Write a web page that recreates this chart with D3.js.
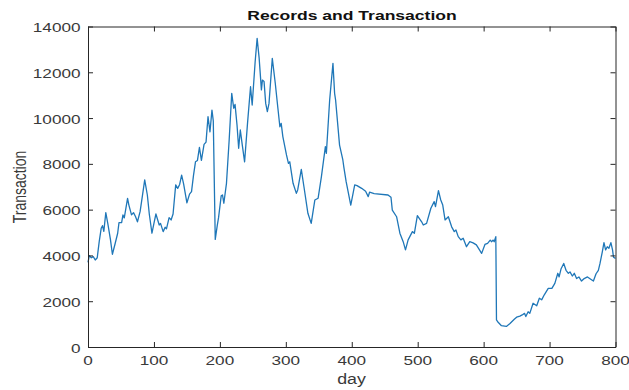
<!DOCTYPE html>
<html>
<head>
<meta charset="utf-8">
<script src="https://cdn.jsdelivr.net/npm/d3@7"></script>
<style>
  html, body { margin: 0; padding: 0; background: #fff; }
  svg { display: block; }
  text { font-family: "Liberation Sans", Arial, Helvetica, sans-serif; }
</style>
</head>
<body>
<svg id="chart" width="629" height="390"></svg>
<script>
// Daily transaction counts
const days = [
  0, 2, 5, 8, 11, 14, 17, 20, 22, 24, 27, 30, 34, 37, 41, 45, 47, 51, 53, 55,
  60, 62, 66, 69, 72, 75, 79, 83, 86, 90, 93, 97, 100, 103, 108, 110, 114, 117, 119, 123,
  126, 129, 133, 136, 139, 142, 145, 150, 154, 157, 160, 163, 166, 169, 172, 176, 179, 182, 185, 188,
  190, 193, 196, 198, 202, 204, 206, 210, 214, 218, 221, 223, 226, 228.5, 231, 234, 237.5, 242, 246.5, 249,
  253.5, 256.5, 259.5, 263, 264.5, 267, 269.5, 272, 274.5, 279.5, 284, 288, 291, 293, 295.5, 301, 304, 306, 311, 316,
  318, 323.5, 327.5, 333.5, 338.5, 344, 349, 354, 360, 361.5, 366.5, 371.5, 374, 375.5, 381.5, 386.5, 388, 391.5, 398.5, 402,
  404.5, 408, 415, 421, 425, 427, 434, 455, 459.5, 461.5, 468, 473, 478, 481.5, 485.5, 492, 495, 499.5, 506, 508.5,
  513.5, 520, 525, 527, 531.5, 535, 538, 541.5, 546.5, 551.5, 555.5, 558, 561.5, 565.5, 569, 574, 579, 584, 589, 597,
  602, 606, 610, 612, 614.5, 616, 618.5, 619.5, 622, 627, 634.5, 640, 646.5, 650, 655, 658.5, 662, 664, 667.5, 670,
  675, 680.5, 684.5, 688, 692, 698, 703.5, 708, 712.5, 714.5, 717.5, 721.5, 725, 728.5, 731, 734.5, 737.5, 741, 744.5, 748.5,
  752.5, 757.5, 763, 766.5, 770.5, 774, 776.5, 780, 782.5, 785, 787.5, 790, 793, 795.5, 797, 800
];
const transactions = [
  3700, 3990, 3900, 3950, 3800, 3900, 4600, 5185, 5300, 5050, 5870, 5400, 4700, 4050, 4500, 4970, 5430, 5430, 5770, 5640,
  6495, 6200, 5770, 5870, 5700, 5470, 5910, 6700, 7300, 6640, 5800, 4970, 5400, 5810, 5330, 5400, 5040, 5230, 5160, 5650,
  5550, 5810, 7080, 6930, 7100, 7510, 7130, 6300, 6680, 6790, 7500, 8090, 8150, 8720, 8150, 8850, 8950, 10060, 9400, 10350,
  9880, 4700, 5300, 5650, 6600, 6640, 6280, 7150, 9000, 11080, 10430, 10600, 9700, 8680, 9480, 8820, 8090, 9800, 11370, 10570,
  12460, 13480, 12640, 11230, 11660, 11600, 10640, 10280, 10640, 12610, 11520, 10430, 9620, 9770, 9190, 8390, 8020, 8090, 7150, 6710,
  6860, 7760, 7000, 5840, 5400, 6420, 6500, 7440, 8750, 8460, 10790, 12390, 11080, 10790, 8820, 8170, 7860, 7220, 6200, 6710,
  7080, 7050, 6930, 6800, 6570, 6760, 6700, 6640, 6540, 5980, 5690, 4970, 4600, 4240, 4680, 5040, 4970, 5740, 5470, 5330,
  5400, 6060, 6350, 6130, 6830, 6420, 6200, 5550, 5690, 5250, 5040, 5110, 4820, 4680, 4750, 4380, 4600, 4550, 4460, 4090,
  4480, 4530, 4670, 4600, 4670, 4600, 4820, 1180, 1080, 930, 900, 1030, 1210, 1300, 1350, 1400, 1470, 1330, 1540, 1470,
  1910, 1800, 2130, 2060, 2280, 2560, 2560, 2780, 3220, 3060, 3420, 3650, 3350, 3220, 3280, 3100, 3220, 2990, 3060, 2880,
  2990, 3060, 2950, 2880, 3200, 3350, 3650, 4160, 4560, 4240, 4380, 4310, 4560, 4240, 3920, 3870
];
const xTicks = [0, 100, 200, 300, 400, 500, 600, 700, 800];
const yTicks = [0, 2000, 4000, 6000, 8000, 10000, 12000, 14000];
const chartTitle = "Records and Transaction";
const xLabel = "day";
const yLabel = "Transaction";

const svg = d3.select("#chart");
const W = 629, H = 390;
const plot = { left: 88, right: 615.5, top: 26.5, bottom: 347 };
// horizontal stretch of glyphs
const sx = 1.27;
const axisColor = "#262626";
const labelColor = "#3a3a3a";

svg.append("rect").attr("width", W).attr("height", H).attr("fill", "#fff");

const x = d3.scaleLinear().domain([0, 800]).range([plot.left, plot.right]);
const y = d3.scaleLinear().domain([0, 14000]).range([plot.bottom, plot.top]);

const data = days.map((d, i) => ({ day: d, value: transactions[i] }));

// series line
const line = d3.line().x(d => x(d.day)).y(d => y(d.value));
svg.append("path")
  .datum(data)
  .attr("d", line)
  .attr("fill", "none")
  .attr("stroke", "#1f77b8")
  .attr("stroke-width", 1.3)
  .attr("stroke-linejoin", "round");

// axes with inward ticks on all four sides
const tickLen = 5;
const axB = d3.axisBottom(x).tickValues(xTicks).tickSizeInner(-tickLen).tickSizeOuter(0).tickFormat("");
const axT = d3.axisTop(x).tickValues(xTicks).tickSizeInner(-tickLen).tickSizeOuter(0).tickFormat("");
const axL = d3.axisLeft(y).tickValues(yTicks).tickSizeInner(-tickLen).tickSizeOuter(0).tickFormat("");
const axR = d3.axisRight(y).tickValues(yTicks).tickSizeInner(-tickLen).tickSizeOuter(0).tickFormat("");

function styleAxis(g) {
  g.selectAll("path").attr("stroke", axisColor).attr("stroke-width", 1);
  g.selectAll("line").attr("stroke", axisColor).attr("stroke-width", 1);
}
svg.append("g").attr("transform", `translate(0,${plot.bottom})`).call(axB).call(styleAxis);
svg.append("g").attr("transform", `translate(0,${plot.top})`).call(axT).call(styleAxis);
svg.append("g").attr("transform", `translate(${plot.left},0)`).call(axL).call(styleAxis);
svg.append("g").attr("transform", `translate(${plot.right},0)`).call(axR).call(styleAxis);

// tick labels
svg.append("g").selectAll("text").data(xTicks).join("text")
  .attr("transform", d => `translate(${x(d)},365) scale(${sx},1)`)
  .attr("text-anchor", "middle")
  .attr("font-size", 13.5)
  .attr("fill", labelColor)
  .text(d => d);

svg.append("g").selectAll("text").data(yTicks).join("text")
  .attr("transform", d => `translate(80.5,${y(d) + 5.5}) scale(${sx},1)`)
  .attr("text-anchor", "end")
  .attr("font-size", 13.5)
  .attr("fill", labelColor)
  .text(d => d);

// title
svg.append("text")
  .attr("transform", `translate(352,19.5) scale(1.3,1)`)
  .attr("text-anchor", "middle")
  .attr("font-size", 13.5)
  .attr("font-weight", "bold")
  .attr("fill", "#111")
  .text(chartTitle);

// axis labels
svg.append("text")
  .attr("transform", `translate(351.5,383.5) scale(${sx},1)`)
  .attr("text-anchor", "middle")
  .attr("font-size", 14)
  .attr("fill", labelColor)
  .text(xLabel);

svg.append("text")
  .attr("transform", `translate(26,187) scale(1.3,1) rotate(-90)`)
  .attr("text-anchor", "middle")
  .attr("font-size", 14)
  .attr("fill", labelColor)
  .text(yLabel);
</script>
</body>
</html>
